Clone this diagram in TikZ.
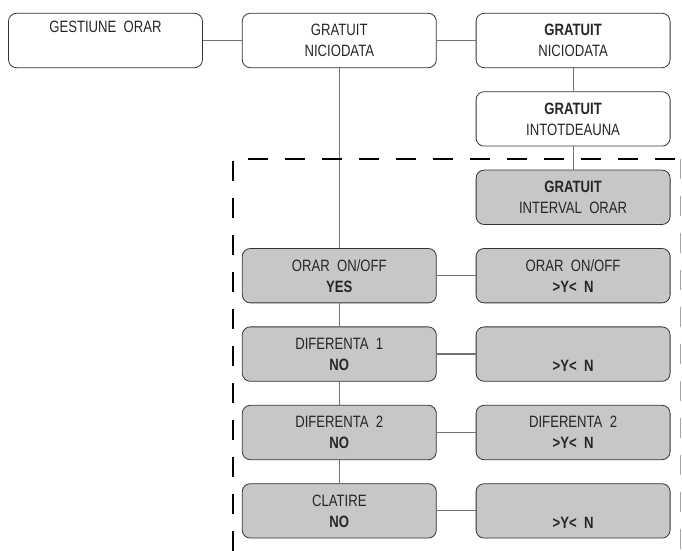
\documentclass[tikz,border=0pt]{standalone}
\usepackage{fontspec}
\setmainfont{Liberation Sans}[FakeStretch=0.8]
\usetikzlibrary{positioning}

\begin{document}
\begin{tikzpicture}[x=0.5pt,y=-0.5pt,node distance=11.6pt and 19.5pt,
box/.style={draw=black!80,rounded corners=4pt,align=center,minimum width=97pt,minimum height=27.2pt,inner sep=0pt,font=\fontsize{8.2}{10.5}\selectfont,text=black!85,execute at begin node={\rule{0pt}{10.5pt}}},
greybox/.style={box,fill=black!22},
link/.style={draw=black!55,line width=0.6pt}]
\useasboundingbox (0,0) rectangle (682,551);
\node[box] (menu) at (105.5,40.5) {GESTIUNE\ \ ORAR\\\strut};
\node[box,right=of menu] (never) {GRATUIT\\NICIODATA};
\node[box,right=of never] (neverR) {\textbf{GRATUIT}\\NICIODATA};
\node[box,below=of neverR] (always) {\textbf{GRATUIT}\\INTOTDEAUNA};
\node[greybox,below=of always] (interval) {\textbf{GRATUIT}\\INTERVAL\ \ ORAR};
\node[greybox,below=of interval] (onoffR) {ORAR\ \ ON/OFF\\\textbf{>Y<\ \ N}};
\node[greybox,left=of onoffR] (onoff) {ORAR\ \ ON/OFF\\\textbf{YES}};
\node[greybox,below=of onoffR] (difAR) {\strut\\\textbf{>Y<\ \ N}};
\node[greybox,left=of difAR] (difA) {DIFERENTA\ \ 1\\\textbf{NO}};
\node[greybox,below=of difAR] (difBR) {DIFERENTA\ \ 2\\\textbf{>Y<\ \ N}};
\node[greybox,left=of difBR] (difB) {DIFERENTA\ \ 2\\\textbf{NO}};
\node[greybox,below=of difBR] (rinseR) {\strut\\\textbf{>Y<\ \ N}};
\node[greybox,left=of rinseR] (rinse) {CLATIRE\\\textbf{NO}};
\draw[link] (menu)--(never);\draw[link] (never)--(neverR);
\draw[link] (neverR)--(always);\draw[link] (always)--(interval);
\draw[link] (never)--(onoff);\draw[link] (onoff)--(difA);
\draw[link] (difA)--(difB);\draw[link] (difB)--(rinse);
\draw[link] (onoff)--(onoffR);\draw[link] (difA)--(difAR);
\draw[link] (difB)--(difBR);\draw[link] (rinse)--(rinseR);
% dashed frame
\coordinate (frame) at (233,159);
\draw[line width=1.3pt,dash pattern=on 10pt off 8.5pt] (233,551)--(frame)--(682,159);
\draw[black!35,line width=0.5pt,dash pattern=on 10pt off 8.5pt] (680.5,159)--(680.5,551);
\end{tikzpicture}
\end{document}
